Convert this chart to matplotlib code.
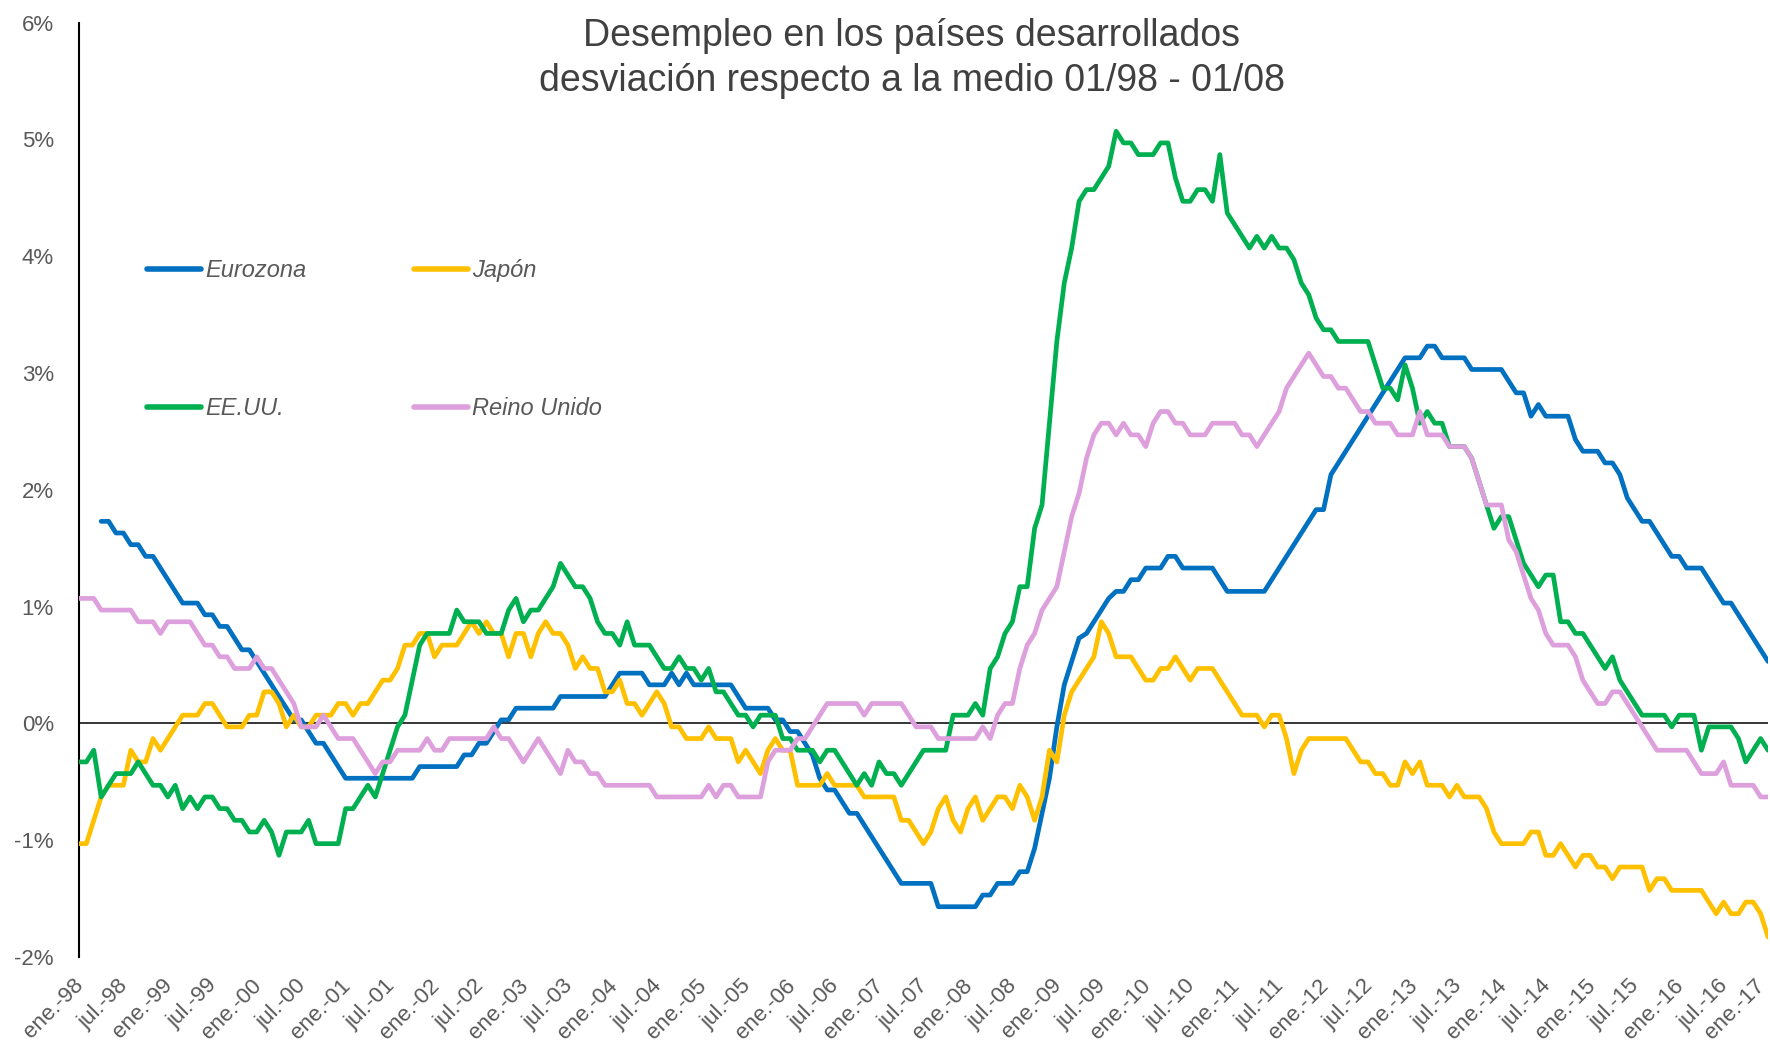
import numpy as np
import matplotlib
matplotlib.use("Agg")
import matplotlib.pyplot as plt
import matplotlib.transforms as mtransforms

plt.rcParams['font.family'] = ['Liberation Sans', 'DejaVu Sans']

# monthly deviations (%), ene.-98 .. ene.-17
eurozona = [
    None, None, None, 1.73, 1.73, 1.63, 1.63, 1.53, 1.53, 1.43, 1.43, 1.33,
    1.23, 1.13, 1.03, 1.03, 1.03, 0.93, 0.93, 0.83, 0.83, 0.73, 0.63, 0.63,
    0.53, 0.43, 0.33, 0.23, 0.13, 0.03, 0.03, -0.07, -0.17, -0.17, -0.27, -0.37,
    -0.47, -0.47, -0.47, -0.47, -0.47, -0.47, -0.47, -0.47, -0.47, -0.47, -0.37, -0.37,
    -0.37, -0.37, -0.37, -0.37, -0.27, -0.27, -0.17, -0.17, -0.07, 0.03, 0.03, 0.13,
    0.13, 0.13, 0.13, 0.13, 0.13, 0.23, 0.23, 0.23, 0.23, 0.23, 0.23, 0.23,
    0.33, 0.43, 0.43, 0.43, 0.43, 0.33, 0.33, 0.33, 0.43, 0.33, 0.43, 0.33,
    0.33, 0.33, 0.33, 0.33, 0.33, 0.23, 0.13, 0.13, 0.13, 0.13, 0.03, 0.03,
    -0.07, -0.07, -0.17, -0.27, -0.47, -0.57, -0.57, -0.67, -0.77, -0.77, -0.87, -0.97,
    -1.07, -1.17, -1.27, -1.37, -1.37, -1.37, -1.37, -1.37, -1.57, -1.57, -1.57, -1.57,
    -1.57, -1.57, -1.47, -1.47, -1.37, -1.37, -1.37, -1.27, -1.27, -1.07, -0.77, -0.47,
    -0.03, 0.33, 0.53, 0.73, 0.77, 0.87, 0.97, 1.07, 1.13, 1.13, 1.23, 1.23,
    1.33, 1.33, 1.33, 1.43, 1.43, 1.33, 1.33, 1.33, 1.33, 1.33, 1.23, 1.13,
    1.13, 1.13, 1.13, 1.13, 1.13, 1.23, 1.33, 1.43, 1.53, 1.63, 1.73, 1.83,
    1.83, 2.13, 2.23, 2.33, 2.43, 2.53, 2.63, 2.73, 2.83, 2.93, 3.03, 3.13,
    3.13, 3.13, 3.23, 3.23, 3.13, 3.13, 3.13, 3.13, 3.03, 3.03, 3.03, 3.03,
    3.03, 2.93, 2.83, 2.83, 2.63, 2.73, 2.63, 2.63, 2.63, 2.63, 2.43, 2.33,
    2.33, 2.33, 2.23, 2.23, 2.13, 1.93, 1.83, 1.73, 1.73, 1.63, 1.53, 1.43,
    1.43, 1.33, 1.33, 1.33, 1.23, 1.13, 1.03, 1.03, 0.93, 0.83, 0.73, 0.63,
    0.53,
]

japon = [
    -1.03, -1.03, -0.83, -0.63, -0.53, -0.53, -0.53, -0.23, -0.33, -0.33, -0.13, -0.23,
    -0.13, -0.03, 0.07, 0.07, 0.07, 0.17, 0.17, 0.07, -0.03, -0.03, -0.03, 0.07,
    0.07, 0.27, 0.27, 0.17, -0.03, 0.07, -0.03, -0.03, 0.07, 0.07, 0.07, 0.17,
    0.17, 0.07, 0.17, 0.17, 0.27, 0.37, 0.37, 0.47, 0.67, 0.67, 0.77, 0.77,
    0.57, 0.67, 0.67, 0.67, 0.77, 0.87, 0.77, 0.87, 0.77, 0.77, 0.57, 0.77,
    0.77, 0.57, 0.77, 0.87, 0.77, 0.77, 0.67, 0.47, 0.57, 0.47, 0.47, 0.27,
    0.27, 0.37, 0.17, 0.17, 0.07, 0.17, 0.27, 0.17, -0.03, -0.03, -0.13, -0.13,
    -0.13, -0.03, -0.13, -0.13, -0.13, -0.33, -0.23, -0.33, -0.43, -0.23, -0.13, -0.23,
    -0.23, -0.53, -0.53, -0.53, -0.53, -0.43, -0.53, -0.53, -0.53, -0.53, -0.63, -0.63,
    -0.63, -0.63, -0.63, -0.83, -0.83, -0.93, -1.03, -0.93, -0.73, -0.63, -0.83, -0.93,
    -0.73, -0.63, -0.83, -0.73, -0.63, -0.63, -0.73, -0.53, -0.63, -0.83, -0.63, -0.23,
    -0.33, 0.07, 0.27, 0.37, 0.47, 0.57, 0.87, 0.77, 0.57, 0.57, 0.57, 0.47,
    0.37, 0.37, 0.47, 0.47, 0.57, 0.47, 0.37, 0.47, 0.47, 0.47, 0.37, 0.27,
    0.17, 0.07, 0.07, 0.07, -0.03, 0.07, 0.07, -0.13, -0.43, -0.23, -0.13, -0.13,
    -0.13, -0.13, -0.13, -0.13, -0.23, -0.33, -0.33, -0.43, -0.43, -0.53, -0.53, -0.33,
    -0.43, -0.33, -0.53, -0.53, -0.53, -0.63, -0.53, -0.63, -0.63, -0.63, -0.73, -0.93,
    -1.03, -1.03, -1.03, -1.03, -0.93, -0.93, -1.13, -1.13, -1.03, -1.13, -1.23, -1.13,
    -1.13, -1.23, -1.23, -1.33, -1.23, -1.23, -1.23, -1.23, -1.43, -1.33, -1.33, -1.43,
    -1.43, -1.43, -1.43, -1.43, -1.53, -1.63, -1.53, -1.63, -1.63, -1.53, -1.53, -1.63,
    -1.83,
]

eeuu = [
    -0.33, -0.33, -0.23, -0.63, -0.53, -0.43, -0.43, -0.43, -0.33, -0.43, -0.53, -0.53,
    -0.63, -0.53, -0.73, -0.63, -0.73, -0.63, -0.63, -0.73, -0.73, -0.83, -0.83, -0.93,
    -0.93, -0.83, -0.93, -1.13, -0.93, -0.93, -0.93, -0.83, -1.03, -1.03, -1.03, -1.03,
    -0.73, -0.73, -0.63, -0.53, -0.63, -0.43, -0.23, -0.03, 0.07, 0.37, 0.67, 0.77,
    0.77, 0.77, 0.77, 0.97, 0.87, 0.87, 0.87, 0.77, 0.77, 0.77, 0.97, 1.07,
    0.87, 0.97, 0.97, 1.07, 1.17, 1.37, 1.27, 1.17, 1.17, 1.07, 0.87, 0.77,
    0.77, 0.67, 0.87, 0.67, 0.67, 0.67, 0.57, 0.47, 0.47, 0.57, 0.47, 0.47,
    0.37, 0.47, 0.27, 0.27, 0.17, 0.07, 0.07, -0.03, 0.07, 0.07, 0.07, -0.13,
    -0.13, -0.23, -0.23, -0.23, -0.33, -0.23, -0.23, -0.33, -0.43, -0.53, -0.43, -0.53,
    -0.33, -0.43, -0.43, -0.53, -0.43, -0.33, -0.23, -0.23, -0.23, -0.23, 0.07, 0.07,
    0.07, 0.17, 0.07, 0.47, 0.57, 0.77, 0.87, 1.17, 1.17, 1.67, 1.87, 2.57,
    3.27, 3.77, 4.07, 4.47, 4.57, 4.57, 4.67, 4.77, 5.07, 4.97, 4.97, 4.87,
    4.87, 4.87, 4.97, 4.97, 4.67, 4.47, 4.47, 4.57, 4.57, 4.47, 4.87, 4.37,
    4.27, 4.17, 4.07, 4.17, 4.07, 4.17, 4.07, 4.07, 3.97, 3.77, 3.67, 3.47,
    3.37, 3.37, 3.27, 3.27, 3.27, 3.27, 3.27, 3.07, 2.87, 2.87, 2.77, 3.07,
    2.87, 2.57, 2.67, 2.57, 2.57, 2.37, 2.37, 2.37, 2.27, 2.07, 1.87, 1.67,
    1.77, 1.77, 1.57, 1.37, 1.27, 1.17, 1.27, 1.27, 0.87, 0.87, 0.77, 0.77,
    0.67, 0.57, 0.47, 0.57, 0.37, 0.27, 0.17, 0.07, 0.07, 0.07, 0.07, -0.03,
    0.07, 0.07, 0.07, -0.23, -0.03, -0.03, -0.03, -0.03, -0.13, -0.33, -0.23, -0.13,
    -0.23,
]

reino_unido = [
    1.07, 1.07, 1.07, 0.97, 0.97, 0.97, 0.97, 0.97, 0.87, 0.87, 0.87, 0.77,
    0.87, 0.87, 0.87, 0.87, 0.77, 0.67, 0.67, 0.57, 0.57, 0.47, 0.47, 0.47,
    0.57, 0.47, 0.47, 0.37, 0.27, 0.17, -0.03, -0.03, -0.03, 0.07, -0.03, -0.13,
    -0.13, -0.13, -0.23, -0.33, -0.43, -0.33, -0.33, -0.23, -0.23, -0.23, -0.23, -0.13,
    -0.23, -0.23, -0.13, -0.13, -0.13, -0.13, -0.13, -0.13, -0.03, -0.13, -0.13, -0.23,
    -0.33, -0.23, -0.13, -0.23, -0.33, -0.43, -0.23, -0.33, -0.33, -0.43, -0.43, -0.53,
    -0.53, -0.53, -0.53, -0.53, -0.53, -0.53, -0.63, -0.63, -0.63, -0.63, -0.63, -0.63,
    -0.63, -0.53, -0.63, -0.53, -0.53, -0.63, -0.63, -0.63, -0.63, -0.33, -0.23, -0.23,
    -0.23, -0.13, -0.13, -0.03, 0.07, 0.17, 0.17, 0.17, 0.17, 0.17, 0.07, 0.17,
    0.17, 0.17, 0.17, 0.17, 0.07, -0.03, -0.03, -0.03, -0.13, -0.13, -0.13, -0.13,
    -0.13, -0.13, -0.03, -0.13, 0.07, 0.17, 0.17, 0.47, 0.67, 0.77, 0.97, 1.07,
    1.17, 1.47, 1.77, 1.97, 2.27, 2.47, 2.57, 2.57, 2.47, 2.57, 2.47, 2.47,
    2.37, 2.57, 2.67, 2.67, 2.57, 2.57, 2.47, 2.47, 2.47, 2.57, 2.57, 2.57,
    2.57, 2.47, 2.47, 2.37, 2.47, 2.57, 2.67, 2.87, 2.97, 3.07, 3.17, 3.07,
    2.97, 2.97, 2.87, 2.87, 2.77, 2.67, 2.67, 2.57, 2.57, 2.57, 2.47, 2.47,
    2.47, 2.67, 2.47, 2.47, 2.47, 2.37, 2.37, 2.37, 2.27, 2.07, 1.87, 1.87,
    1.87, 1.57, 1.47, 1.27, 1.07, 0.97, 0.77, 0.67, 0.67, 0.67, 0.57, 0.37,
    0.27, 0.17, 0.17, 0.27, 0.27, 0.17, 0.07, -0.03, -0.13, -0.23, -0.23, -0.23,
    -0.23, -0.23, -0.33, -0.43, -0.43, -0.43, -0.33, -0.53, -0.53, -0.53, -0.53, -0.63,
    -0.63,
]

tick_labels = [
    "ene.-98", "jul.-98", "ene.-99", "jul.-99", "ene.-00", "jul.-00", "ene.-01", "jul.-01",
    "ene.-02", "jul.-02", "ene.-03", "jul.-03", "ene.-04", "jul.-04", "ene.-05", "jul.-05",
    "ene.-06", "jul.-06", "ene.-07", "jul.-07", "ene.-08", "jul.-08", "ene.-09", "jul.-09",
    "ene.-10", "jul.-10", "ene.-11", "jul.-11", "ene.-12", "jul.-12", "ene.-13", "jul.-13",
    "ene.-14", "jul.-14", "ene.-15", "jul.-15", "ene.-16", "jul.-16", "ene.-17",
]
y_ticks = [-2, -1, 0, 1, 2, 3, 4, 5, 6]

series = [
    ("Eurozona", eurozona, "#0070C0"),
    ("Japón", japon, "#FFC000"),
    ("EE.UU.", eeuu, "#00B050"),
    ("Reino Unido", reino_unido, "#DDA0DD"),
]

fig = plt.figure(figsize=(17.7, 10.47), dpi=100)
ax = fig.add_axes([0.0446, 0.086, 0.9543, 0.8924])

months = np.arange(len(japon))
handles = {}
for i, (name, vals, col) in enumerate(series):
    v = np.array([np.nan if x is None else x for x in vals], dtype=float)
    ln, = ax.plot(months, v, color=col, lw=3.4, label=name, zorder=3 + i,
                  solid_joinstyle='round', solid_capstyle='round')
    handles[name] = ln

ax.axhline(0, color='black', lw=1.1, zorder=2)

ax.set_xlim(0, len(japon) - 1)
ax.set_ylim(-2, 6)
ax.set_yticks(y_ticks)
ax.set_yticklabels([f"{t}%" for t in y_ticks])
ax.set_xticks(np.arange(0, len(japon), 6))
ax.set_xticklabels(tick_labels, rotation=45, ha='right', va='center_baseline',
                   rotation_mode='anchor')

for s in ['top', 'right', 'bottom']:
    ax.spines[s].set_visible(False)
ax.spines['left'].set_linewidth(1.5)
ax.spines['left'].set_color('black')
ax.tick_params(axis='y', length=0, pad=18, labelsize=16, labelcolor='#595959')
ax.tick_params(axis='x', length=0, pad=17, labelsize=16, labelcolor='#595959')

# nudge the last label so it stays inside the canvas
last = ax.get_xticklabels()[-1]
last.set_transform(last.get_transform() +
                   mtransforms.ScaledTranslation(-6 / 72, 0, fig.dpi_scale_trans))

fig.text(0.515, 0.944, "Desempleo en los países desarrollados\n"
         "desviación respecto a la medio 01/98 - 01/08",
         ha='center', va='center', fontsize=27, color='#404040', linespacing=1.32)

# two columns: Eurozona / EE.UU. on the left, Japón / Reino Unido on the right
order = ["Eurozona", "EE.UU.", "Japón", "Reino Unido"]
leg = ax.legend([handles[n] for n in order], order, ncol=2, loc='upper left',
                bbox_to_anchor=(0.0831, 0.7522), bbox_transform=fig.transFigure,
                frameon=False, borderpad=0, borderaxespad=0, handlelength=2.3,
                handletextpad=0.17, labelspacing=4.85, columnspacing=4.55,
                prop={'style': 'italic', 'size': 17})
for t in leg.get_texts():
    t.set_color('#595959')
for h in leg.legend_handles:
    h.set_linewidth(4)

fig.savefig("out.png", dpi=100)
